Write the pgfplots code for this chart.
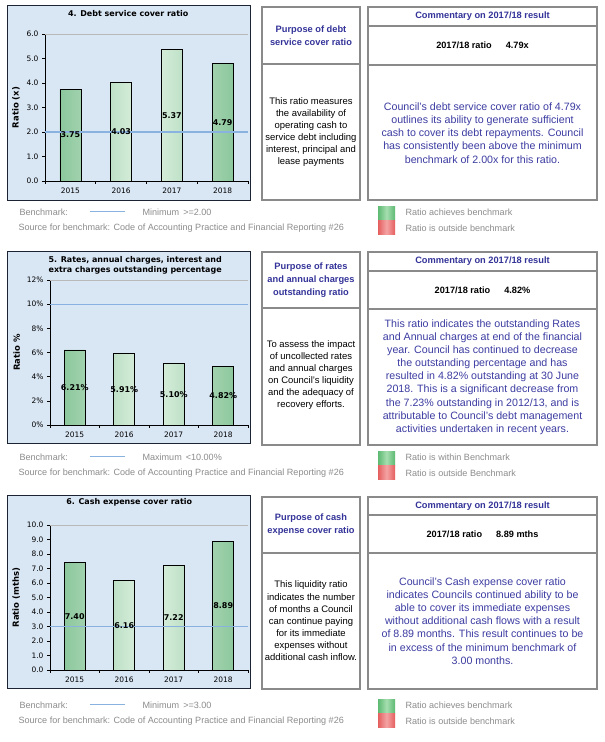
\documentclass[border=0pt]{standalone}
\usepackage{pgfplots}
\pgfplotsset{compat=1.18}
\usepackage{fontspec}
\setmainfont{Liberation Sans}
\newfontfamily\chartfont{DejaVu Sans}

\definecolor{chartbg}{HTML}{D9E6F4}
\definecolor{chartframe}{HTML}{1C2433}
\definecolor{baredge}{HTML}{8CC79C}
\definecolor{barmid}{HTML}{E2F3E5}
\definecolor{bench}{HTML}{8AB2E0}
\definecolor{boxgray}{HTML}{8A8A8A}
\definecolor{headblue}{HTML}{333399}
\definecolor{bodyblue}{HTML}{3C3CA2}
\definecolor{leggray}{HTML}{8C8C8C}
\definecolor{okgreen}{HTML}{5DBA72}
\definecolor{okgreenlt}{HTML}{A6DDB0}
\definecolor{badred}{HTML}{E55F5F}
\definecolor{badredlt}{HTML}{F4A3A3}

\pgfplotsset{
  ratiochart/.style={
    scale only axis,
    width=198bp, height=145bp,
    xmin=-0.5, xmax=3.5, ymin=0,
    axis lines*=left,
    axis line style={black, line width=0.8bp},
    xtick={0,1,2,3},
    xticklabels={2015,2016,2017,2018},
    major x tick style={draw=none},
    minor xtick={-0.5,0.5,1.5,2.5,3.5},
    tick align=outside,
    major tick length=3bp, minor tick length=3bp,
    tick style={black, line width=0.6bp},
    /pgf/number format/assume math mode=true,
    ticklabel style={font=\chartfont\fontsize{7.5}{8}\selectfont},
    ylabel style={font=\chartfont\bfseries\fontsize{8.5}{9}\selectfont},
    title style={font=\chartfont\bfseries\fontsize{8}{10}\selectfont, align=center, anchor=center},
    clip=false,
  },
  ratiobars/.style={
    ybar, bar width=21bp, draw=black, line width=0.7bp,
    left color=baredge, right color=baredge, middle color=barmid,
  },
  benchline/.style={bench, line width=1.3bp},
  barlabels/.style={
    draw=none, mark=none, point meta=explicit,
    nodes near coords={\pgfmathprintnumber[fixed,zerofill,precision=2,assume math mode=true]{\pgfplotspointmeta}#1},
    every node near coord/.style={anchor=center, font=\chartfont\bfseries\fontsize{8}{9}\selectfont, black},
  },
}

\begin{document}
\begin{tikzpicture}[x=1bp, y=1bp]
\useasboundingbox (0,0) rectangle (605,742);
\fill[white] (0,0) rectangle (605,742);

% chart backgrounds (y measured from the top of the page)
\begin{scope}[shift={(0,742)}, yscale=-1]
  \filldraw[fill=chartbg, draw=chartframe, line width=0.8bp] (7,5) rectangle (250,200);
  \filldraw[fill=chartbg, draw=chartframe, line width=0.8bp] (7,251) rectangle (250,443);
  \filldraw[fill=chartbg, draw=chartframe, line width=0.8bp] (7,495) rectangle (250,688);
\end{scope}

% ---------- 4. Debt service cover ratio ----------
\begin{axis}[ratiochart,
    at={(45bp,561bp)}, anchor=south west,
    width=203bp, height=147bp,
    ymax=6, ytick={0,1,...,6},
    yticklabel style={/pgf/number format/.cd, fixed, zerofill, precision=1},
    ylabel={Ratio (x)},
    title={4. Debt service cover ratio},
    title style={at={(axis description cs:0.41,1)}, yshift=14bp},
  ]
  \draw[gray!55] (axis cs:-0.5,6) -- (axis cs:3.5,6);
  \addplot[ratiobars] coordinates {(0,3.75) (1,4.03) (2,5.37) (3,4.79)};
  \addplot[benchline] coordinates {(-0.5,2) (3.5,2)};
  \addplot[barlabels={}] coordinates {(0,1.875) [3.75] (1,2.015) [4.03] (2,2.685) [5.37] (3,2.395) [4.79]};
\end{axis}

% ---------- 5. Rates outstanding ----------
\begin{axis}[ratiochart,
    at={(50bp,317bp)}, anchor=south west,
    ymax=12, ytick={0,2,...,12},
    yticklabel={\pgfmathprintnumber{\tick}\%},
    ylabel={Ratio \%},
    title={5. Rates, annual charges, interest and\\extra charges outstanding percentage},
    title style={at={(axis description cs:0.43,1)}, yshift=9bp},
  ]
  \draw[gray!55] (axis cs:-0.5,12) -- (axis cs:3.5,12);
  \addplot[ratiobars] coordinates {(0,6.21) (1,5.91) (2,5.10) (3,4.82)};
  \addplot[benchline] coordinates {(-0.5,10) (3.5,10)};
  \addplot[barlabels={\%}] coordinates {(0,3.105) [6.21] (1,2.955) [5.91] (2,2.55) [5.10] (3,2.41) [4.82]};
\end{axis}

% ---------- 6. Cash expense cover ratio ----------
\begin{axis}[ratiochart,
    at={(50bp,72bp)}, anchor=south west,
    ymax=10, ytick={0,1,...,10},
    yticklabel style={/pgf/number format/.cd, fixed, zerofill, precision=1},
    ylabel={Ratio (mths)},
    title={6. Cash expense cover ratio},
    title style={at={(axis description cs:0.40,1)}, yshift=17bp},
  ]
  \draw[gray!55] (axis cs:-0.5,10) -- (axis cs:3.5,10);
  \addplot[ratiobars] coordinates {(0,7.40) (1,6.16) (2,7.22) (3,8.89)};
  \addplot[benchline] coordinates {(-0.5,3) (3.5,3)};
  \addplot[barlabels={}] coordinates {(0,3.70) [7.40] (1,3.08) [6.16] (2,3.61) [7.22] (3,4.445) [8.89]};
\end{axis}

\begin{scope}[shift={(0,742)}, yscale=-1,
    panel/.style={draw=boxgray, line width=1.8bp},
    head/.style={text=headblue, font=\bfseries\fontsize{9.3}{13}\selectfont, align=center},
    purp/.style={text=black, font=\fontsize{9.5}{12.2}\selectfont, align=center},
    comm/.style={text=bodyblue, font=\fontsize{10.7}{13.2}\selectfont, align=center},
    ratio/.style={text=black, font=\bfseries\fontsize{9.2}{11}\selectfont},
    leg/.style={text=leggray, font=\fontsize{9.1}{10}\selectfont, anchor=west},
  ]
  % ----- panel boxes -----
  \foreach \t/\b/\pd/\ca/\cb in {7/200/64/26/65, 252/445/308/271/309, 497/689/553/515/553}{
    \draw[panel] (262,\t) rectangle (360,\b);
    \draw[panel] (262,\pd) -- (360,\pd);
    \draw[panel] (368,\t) rectangle (597,\b);
    \draw[panel] (368,\ca) -- (597,\ca);
    \draw[panel] (368,\cb) -- (597,\cb);
  }

  % ----- panel 1 text -----
  \node[head] at (311,36) {Purpose of debt\\service cover ratio};
  \node[purp] at (311,132) {This ratio measures\\the availability of\\operating cash to\\service debt including\\interest, principal and\\lease payments};
  \node[head] at (482.5,16.5) {Commentary on 2017/18 result};
  \node[ratio] at (482.5,45.5) {2017/18 ratio\hspace{14bp}4.79x};
  \node[comm] at (482.5,133) {Council's debt service cover ratio of 4.79x\\outlines its ability to generate sufficient\\cash to cover its debt repayments. Council\\has consistently been above the minimum\\benchmark of 2.00x for this ratio.};

  % ----- panel 2 text -----
  \node[head] at (311,280) {Purpose of rates\\and annual charges\\outstanding ratio};
  \node[purp] at (311,375) {To assess the impact\\of uncollected rates\\and annual charges\\on Council's liquidity\\and the adequacy of\\recovery efforts.};
  \node[head] at (482.5,261.5) {Commentary on 2017/18 result};
  \node[ratio] at (482.5,290) {2017/18 ratio\hspace{14bp}4.82\%};
  \node[comm] at (482.5,377) {This ratio indicates the outstanding Rates\\and Annual charges at end of the financial\\year. Council has continued to decrease\\the outstanding percentage and has\\resulted in 4.82\% outstanding at 30 June\\2018. This is a significant decrease from\\the 7.23\% outstanding in 2012/13, and is\\attributable to Council's debt management\\activities undertaken in recent years.};

  % ----- panel 3 text -----
  \node[head] at (311,525) {Purpose of cash\\expense cover ratio};
  \node[purp] at (311,621) {This liquidity ratio\\indicates the number\\of months a Council\\can continue paying\\for its immediate\\expenses without\\additional cash inflow.};
  \node[head] at (482.5,506) {Commentary on 2017/18 result};
  \node[ratio] at (482.5,534) {2017/18 ratio\hspace{14bp}8.89 mths};
  \node[comm] at (482.5,621) {Council's Cash expense cover ratio\\indicates Councils continued ability to be\\able to cover its immediate expenses\\without additional cash flows with a result\\of 8.89 months. This result continues to be\\in excess of the minimum benchmark of\\3.00 months.};

  % ----- benchmark legends -----
  \foreach \y/\lim/\inA/\inB in {212/{Minimum\hspace{4bp}>=2.00}/{Ratio achieves benchmark}/{Ratio is outside benchmark},
                               457/{Maximum\hspace{4bp}<10.00\%}/{Ratio is within Benchmark}/{Ratio is outside Benchmark},
                               705/{Minimum\hspace{4bp}>=3.00}/{Ratio achieves benchmark}/{Ratio is outside benchmark}}{
    \node[leg] at (16,\y) {Benchmark:};
    \draw[bench, line width=1bp] (90,\y) -- (125,\y);
    \node[leg] at (139,\y) {\lim};
    \node[leg] at (15,\y+16) {Source for benchmark: Code of Accounting Practice and Financial Reporting \#26};
    \shade[left color=okgreen, right color=okgreen, middle color=okgreenlt] (378,\y-5) rectangle (395,\y+9);
    \shade[left color=badred, right color=badred, middle color=badredlt] (378,\y+9) rectangle (395,\y+23);
    \node[leg] at (402,\y) {\inA};
    \node[leg] at (402,\y+16) {\inB};
  }
\end{scope}
\end{tikzpicture}
\end{document}
